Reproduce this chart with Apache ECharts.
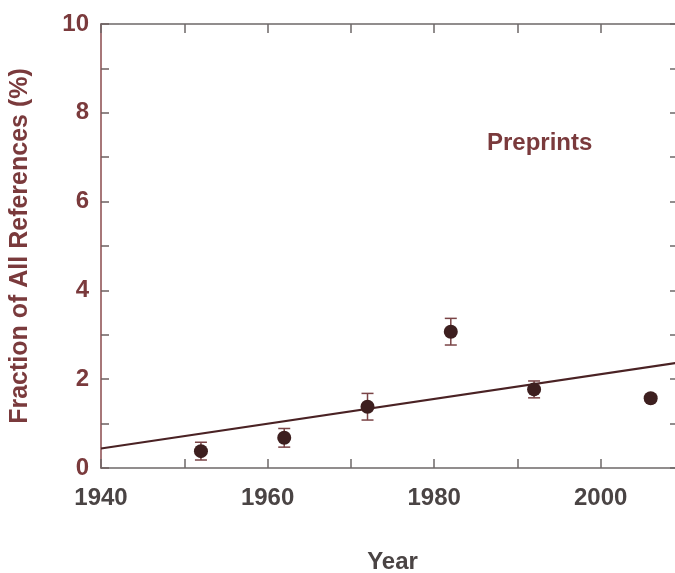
<!DOCTYPE html>
<html>
<head>
<meta charset="utf-8">
<script src="https://cdn.jsdelivr.net/npm/echarts@6/dist/echarts.min.js"></script>
<style>html,body{margin:0;padding:0;background:#fff;}#chart{width:675px;height:573px;}</style>
</head>
<body>
<div id="chart"></div>
<script>
// Data
const years = [1952, 1962, 1972, 1982, 1992, 2006];
const fractions = [0.38, 0.68, 1.38, 3.07, 1.77, 1.57];
const errors = [0.2, 0.21, 0.3, 0.3, 0.19, 0.07];
const trendYears = [1940, 2010];
const trendValues = [0.44, 2.39];
const xTickLabels = [1940, 1960, 1980, 2000];
const yTickLabels = [0, 2, 4, 6, 8, 10];
const seriesName = 'Preprints';

const FONT = '"Liberation Sans", Arial, sans-serif';
const RED = '#7a3a3c';
const GRAY = '#4a4444';
const MARK = '#3d1f1f';

const pts = years.map((y, i) => [y, fractions[i]]);
const errData = years.map((y, i) => [y, fractions[i] - errors[i], fractions[i] + errors[i]]);
const trend = trendYears.map((y, i) => [y, trendValues[i]]);

const chart = echarts.init(document.getElementById('chart'), null, {renderer: 'canvas'});
chart.setOption({
  backgroundColor: '#ffffff',
  animation: false,
  grid: {left: 101, top: 24, width: 583, height: 444, containLabel: false, outerBoundsMode: 'none'},
  xAxis: [{
    type: 'value', min: 1940, max: 2010, interval: 10, position: 'bottom',
    name: 'Year', nameLocation: 'middle', nameGap: 82,
    nameTextStyle: {fontFamily: FONT, fontWeight: 'bold', fontSize: 24, color: GRAY},
    axisLine: {show: true, onZero: false, lineStyle: {color: '#6e6868', width: 1.5}},
    axisTick: {show: true, inside: true, length: 9, lineStyle: {color: '#6e6868', width: 1.5}},
    axisLabel: {
      margin: 18, fontFamily: FONT, fontWeight: 'bold', fontSize: 24, color: GRAY,
      formatter: v => xTickLabels.indexOf(v) >= 0 ? String(v) : ''
    },
    splitLine: {show: false}
  }, {
    type: 'value', min: 1940, max: 2010, interval: 10, position: 'top',
    axisLine: {show: true, onZero: false, lineStyle: {color: '#6e6868', width: 1.5}},
    axisTick: {show: true, inside: true, length: 9, lineStyle: {color: '#6e6868', width: 1.5}},
    axisLabel: {show: false}, splitLine: {show: false}
  }],
  yAxis: [{
    type: 'value', min: 0, max: 10, interval: 1, position: 'left',
    name: 'Fraction of All References (%)', nameLocation: 'middle', nameGap: 68,
    nameTextStyle: {fontFamily: FONT, fontWeight: 'bold', fontSize: 25, color: RED},
    axisLine: {show: true, onZero: false, lineStyle: {color: '#8a4a4c', width: 1.5}},
    axisTick: {show: true, inside: true, length: 8, lineStyle: {color: '#6e6060', width: 1.5}},
    axisLabel: {
      margin: 12, fontFamily: FONT, fontWeight: 'bold', fontSize: 24,
      color: v => (v === 0 || v === 10) ? GRAY : RED,
      formatter: v => yTickLabels.indexOf(v) >= 0 ? String(v) : ''
    },
    splitLine: {show: false}
  }, {
    type: 'value', min: 0, max: 10, interval: 1, position: 'right',
    axisLine: {show: true, onZero: false, lineStyle: {color: '#6e6868', width: 1.5}},
    axisTick: {show: true, inside: true, length: 14, lineStyle: {color: '#6e6868', width: 1.5}},
    axisLabel: {show: false}, splitLine: {show: false}
  }],
  graphic: [{
    type: 'text', left: 487, top: 131,
    style: {text: seriesName, fontFamily: FONT, fontWeight: 'bold', fontSize: 24, fill: RED}
  }],
  series: [{
    type: 'line', data: trend, showSymbol: false, symbol: 'none',
    lineStyle: {color: '#4a2224', width: 2.2}, z: 2
  }, {
    type: 'custom', data: errData, z: 3,
    renderItem: function (params, api) {
      const x = api.value(0);
      const lo = api.coord([x, api.value(1)]);
      const hi = api.coord([x, api.value(2)]);
      const cap = 6;
      const st = {stroke: '#7a4446', lineWidth: 1.5, fill: null};
      return {type: 'group', children: [
        {type: 'line', shape: {x1: lo[0], y1: lo[1], x2: hi[0], y2: hi[1]}, style: st},
        {type: 'line', shape: {x1: lo[0] - cap, y1: lo[1], x2: lo[0] + cap, y2: lo[1]}, style: st},
        {type: 'line', shape: {x1: hi[0] - cap, y1: hi[1], x2: hi[0] + cap, y2: hi[1]}, style: st}
      ]};
    }
  }, {
    type: 'scatter', data: pts, symbol: 'circle', symbolSize: 14,
    itemStyle: {color: MARK, opacity: 1}, z: 4
  }]
});
</script>
</body>
</html>
